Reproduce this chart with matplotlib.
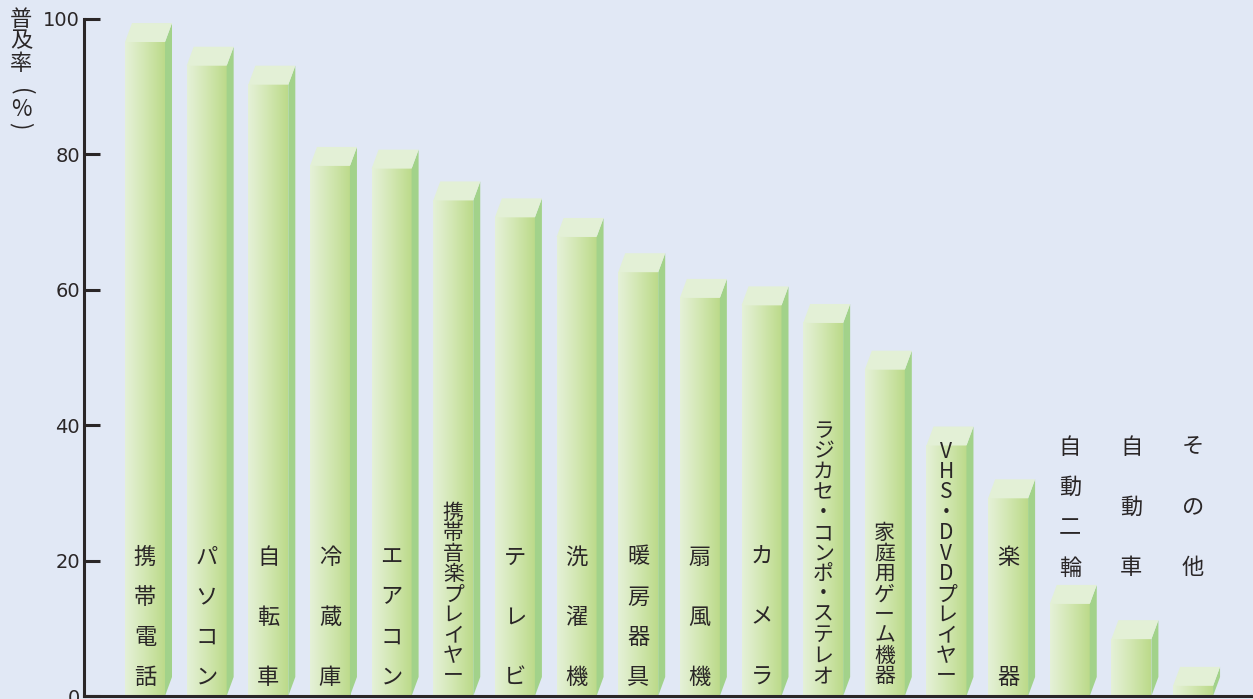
import numpy as np
import matplotlib
matplotlib.use('Agg')
import matplotlib.pyplot as plt
from matplotlib.patches import Polygon
from matplotlib.colors import LinearSegmentedColormap

plt.rcParams['font.family'] = ['Noto Sans CJK JP', 'DejaVu Sans']

# data
items = ['携帯電話', 'パソコン', '自転車', '冷蔵庫', 'エアコン', '携帯音楽プレイヤー',
         'テレビ', '洗濯機', '暖房器具', '扇風機', 'カメラ',
         'ラジカセ・コンポ・ステレオ', '家庭用ゲーム機器', 'VHS・DVDプレイヤー',
         '楽器', '自動二輪', '自動車', 'その他']
rates = [96.6, 93.1, 90.3, 78.3, 77.9, 73.2, 70.7, 67.8, 62.6, 58.8, 57.7,
         55.1, 48.2, 37.0, 29.2, 13.6, 8.4, 1.5]
yticks = [0, 20, 40, 60, 80, 100]

W, H = 1253, 699
bg = '#e1e8f5'
ink = '#2a2627'
front_cmap = LinearSegmentedColormap.from_list('front', ['#e5f1d8', '#d2e7b2', '#bcda8a'])
side_col = '#a2d28a'
top_col = '#e3f0d6'
fs = 16

fig = plt.figure(figsize=(W / 100, H / 100), dpi=100, facecolor=bg)
ax = fig.add_axes([84 / W, 3 / H, (W - 84) / W, 677 / H])
ax.set_facecolor(bg)

pitch = 61.65            # px per bar
ypx = 677 / 100          # px per percent
xlim = (-61 / pitch, (W - 145) / pitch)

bw = 40 / pitch
dx = 7 / pitch
dy = 19 / ypx
grad = np.linspace(0, 1, 64).reshape(1, -1)

for i, (name, v) in enumerate(zip(items, rates)):
    x0 = i - bw / 2
    x1 = i + bw / 2
    ax.imshow(grad, cmap=front_cmap, extent=[x0, x1, 0, v], aspect='auto',
              origin='lower', zorder=2, clip_on=False, interpolation='bilinear')
    ax.add_patch(Polygon([(x1, 0), (x1 + dx, dy), (x1 + dx, v + dy), (x1, v)],
                         closed=True, fc=side_col, ec='none', zorder=2, clip_on=False))
    ax.add_patch(Polygon([(x0, v), (x1, v), (x1 + dx, v + dy), (x0 + dx, v + dy)],
                         closed=True, fc=top_col, ec='none', zorder=2, clip_on=False))

    # labels, one character per row
    chars = list(name)
    n = len(chars)
    size = fs
    if i >= 15:
        top, bot = (696 - 447) / ypx, (696 - 568) / ypx
        ys = np.linspace(top, bot, n)
    elif n <= 4:
        top, bot = (696 - 557) / ypx, (696 - 677) / ypx
        ys = np.linspace(top, bot, n)
    else:
        # long names are packed tight
        step = 20.4 / ypx
        bot = (696 - 676) / ypx
        ys = bot + step * np.arange(n)[::-1]
        size = 15
    for c, yy in zip(chars, ys):
        ax.text(i, yy, c, ha='center', va='center', fontsize=size, color=ink, zorder=3)

ax.set_aspect('auto')
ax.set_xlim(*xlim)
ax.set_ylim(0, 100)

for s in ['top', 'right']:
    ax.spines[s].set_visible(False)
for s in ['left', 'bottom']:
    ax.spines[s].set_linewidth(2.2)
    ax.spines[s].set_color(ink)
    ax.spines[s].set_zorder(4)
ax.set_xticks([])
ax.set_yticks(yticks)
ax.set_yticklabels([str(t) for t in yticks], family='DejaVu Sans')
ax.tick_params(axis='y', direction='in', length=11.5, width=2.2, color=ink,
               labelsize=14, labelcolor=ink, pad=3)

# y label, vertical
ylab_x = 21 / W
for c, py, rot in [('普', 19, 0), ('及', 41, 0), ('率', 63, 0),
                   ('(', 92, -90), ('%', 109, 0), (')', 126, -90)]:
    fig.text(ylab_x, 1 - py / H, c, ha='center', va='center', fontsize=fs,
             color=ink, rotation=rot)

fig.savefig('out.png', dpi=100, facecolor=bg)
